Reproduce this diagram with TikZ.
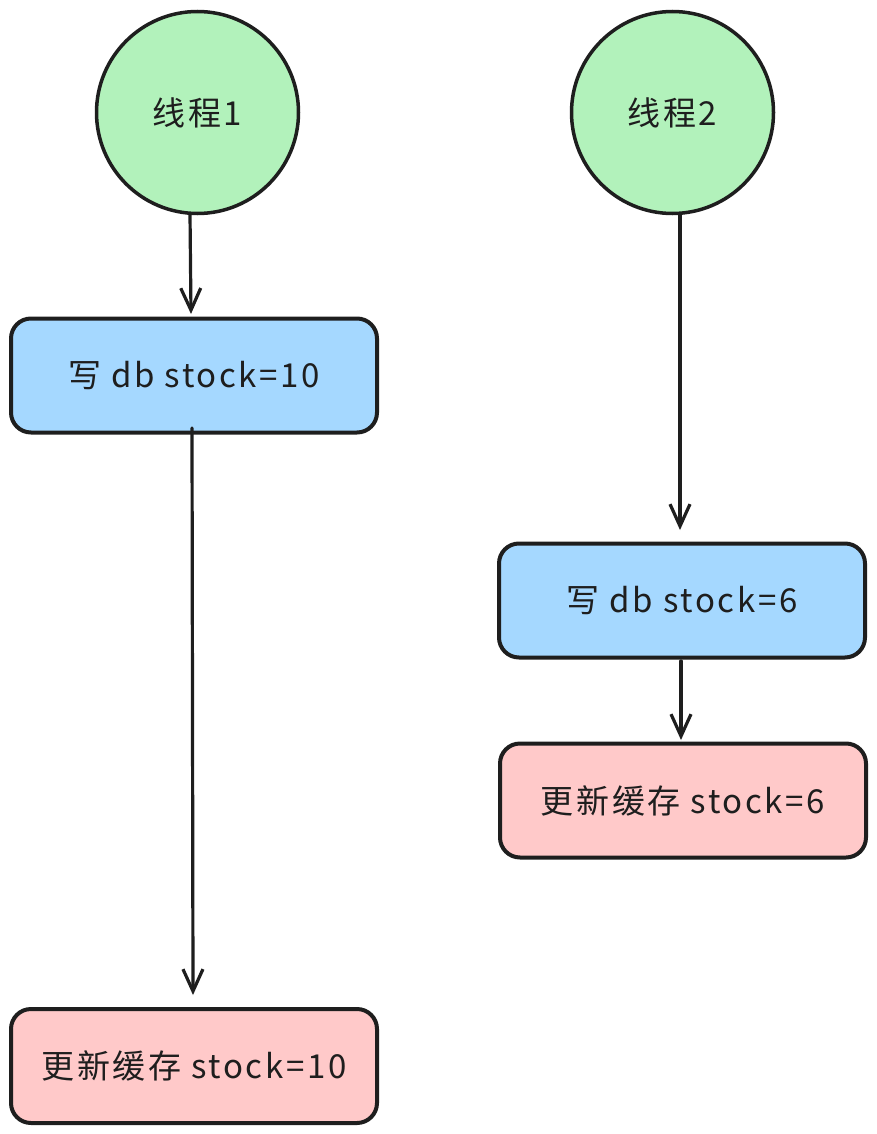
\documentclass[tikz,border=0pt]{standalone}
\usepackage{fontspec}
\setmainfont{Noto Sans CJK SC}[LetterSpace=8]
\usetikzlibrary{arrows.meta}
\definecolor{cgreen}{HTML}{B2F2BB}
\definecolor{cblue}{HTML}{A5D8FF}
\definecolor{cpink}{HTML}{FFC9C9}
\definecolor{cink}{HTML}{1E1E1E}
\tikzset{
  x=1pt, y=-1pt,
  lbl/.style={font=\fontsize{33}{38}\selectfont, text=cink},
  thread/.style={circle, draw=cink, line width=3.5pt, fill=cgreen, minimum size=202pt, inner sep=0pt, lbl},
  box/.style={rounded corners=20pt, draw=cink, line width=4pt, minimum width=366pt, minimum height=114pt, inner sep=0pt, lbl},
  bluebox/.style={box, fill=cblue},
  pinkbox/.style={box, fill=cpink},
  flow/.style={draw=cink, line width=3.2pt, line cap=round, -{Straight Barb[length=22pt, width=20pt, line width=3.2pt]}}
}
\begin{document}
\begin{tikzpicture}
\useasboundingbox (0,0) rectangle (877,1134);
\node[thread] (t1) at (197.5,112.5) {线程1};
\node[thread] (t2) at (672.5,112.5) {线程2};
\node[bluebox] (b1) at (194,375.5) {写 db stock=10};
\node[bluebox] (b2) at (682,600.5) {写 db stock=6};
\node[pinkbox] (p2) at (683,800.5) {更新缓存 stock=6};
\node[pinkbox] (p1) at (194,1066) {更新缓存 stock=10};
\coordinate (a1s) at (190,214);
\coordinate (a1e) at (191,314);
\draw[flow] (a1s) -- (a1e);
\coordinate (a2s) at (192,428);
\coordinate (a2e) at (193,995);
\draw[flow] (a2s) -- (a2e);
\coordinate (a3s) at (680,214);
\coordinate (a3e) at (680,530);
\draw[flow] (a3s) -- (a3e);
\coordinate (a4s) at (681,661);
\coordinate (a4e) at (681,740);
\draw[flow] (a4s) -- (a4e);
\end{tikzpicture}
\end{document}
